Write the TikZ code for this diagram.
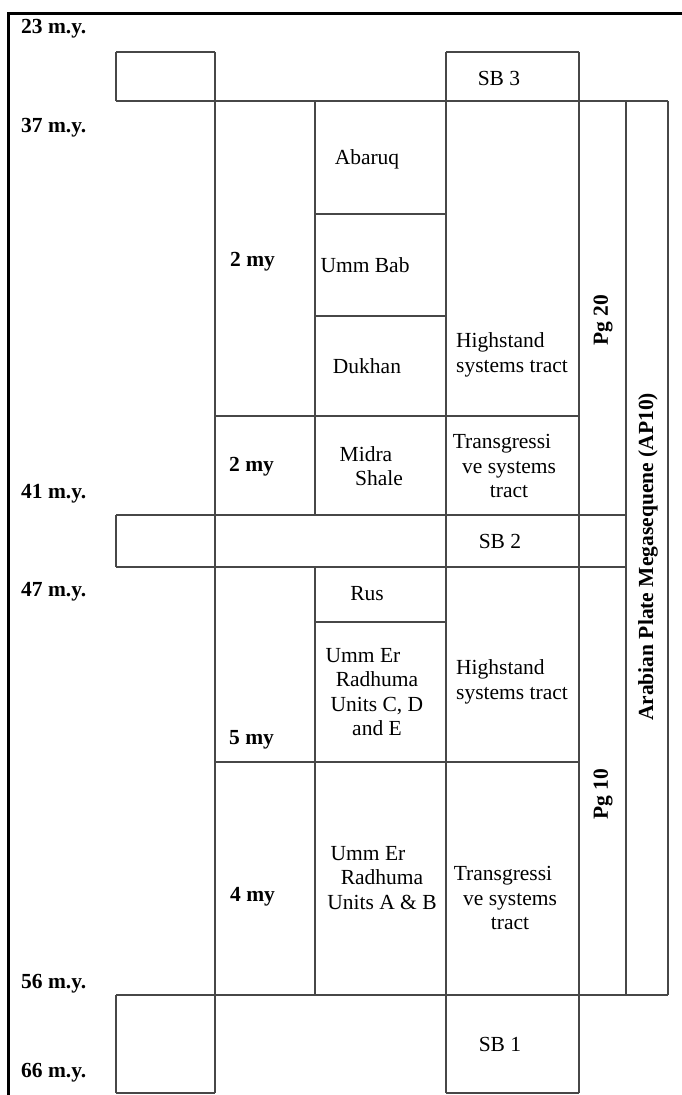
\documentclass[tikz,border=0pt]{standalone}
\usepackage{fontspec}
\setmainfont{Liberation Serif}
\begin{document}
\begin{tikzpicture}[x=1pt,y=-1pt,
  gridline/.style={draw=black!72,line width=1.3pt},
  frameline/.style={draw=black,line cap=rect},
  txt/.style={inner sep=0pt,font=\fontsize{21.5}{24.5}\selectfont},
  btxt/.style={inner sep=0pt,font=\fontsize{21.5}{24.5}\selectfont\bfseries},
  lefttxt/.style={txt,align=left,anchor=west},
  ctrtxt/.style={txt,align=center}]
\useasboundingbox (0,0) rectangle (681,1095);
% frame lines
\draw[frameline,line width=3pt] (8.5,13.5) -- (681,13.5);
\draw[frameline,line width=2.4pt] (8.5,13.5) -- (8.5,1095);
% horizontal grid lines
\draw[gridline] (116,52) -- (215,52);
\draw[gridline] (446,52) -- (579,52);
\draw[gridline] (116,101) -- (668,101);
\draw[gridline] (315,214) -- (446,214);
\draw[gridline] (315,316) -- (446,316);
\draw[gridline] (215,416) -- (579,416);
\draw[gridline] (116,515) -- (626,515);
\draw[gridline] (116,567) -- (626,567);
\draw[gridline] (315,622) -- (446,622);
\draw[gridline] (215,762) -- (579,762);
\draw[gridline] (116,995) -- (668,995);
\draw[gridline] (116,1093) -- (215,1093);
\draw[gridline] (446,1093) -- (579,1093);
% vertical grid lines
\draw[gridline] (116,52) -- (116,101);
\draw[gridline] (116,515) -- (116,567);
\draw[gridline] (116,995) -- (116,1093);
\draw[gridline] (215,52) -- (215,1093);
\draw[gridline] (315,101) -- (315,515);
\draw[gridline] (315,567) -- (315,995);
\draw[gridline] (446,52) -- (446,1093);
\draw[gridline] (579,52) -- (579,1093);
\draw[gridline] (626,101) -- (626,995);
\draw[gridline] (668,101) -- (668,995);
% age labels
\node[btxt,anchor=west] (a23) at (21,29) {23 m.y.};
\node[btxt,anchor=west] (a37) at (21,128) {37 m.y.};
\node[btxt,anchor=west] (a41) at (21,494) {41 m.y.};
\node[btxt,anchor=west] (a47) at (21,592) {47 m.y.};
\node[btxt,anchor=west] (a56) at (21,984) {56 m.y.};
\node[btxt,anchor=west] (a66) at (21,1073) {66 m.y.};
% durations
\node[btxt,anchor=west] (d1) at (230,262) {2 my};
\node[btxt,anchor=west] (d2) at (229,467) {2 my};
\node[btxt,anchor=west] (d3) at (229,740) {5 my};
\node[btxt,anchor=west] (d4) at (230,897) {4 my};
% formations
\node[txt] (abaruq) at (367,159) {Abaruq};
\node[txt] (ummbab) at (365,265) {Umm Bab};
\node[txt] (dukhan) at (367,366) {Dukhan};
\node[ctrtxt] (midra) at (379,466) {Midra\hspace*{26pt}\\Shale};
\node[txt] (rus) at (367,594) {Rus};
\node[ctrtxt] (uerc) at (377,692) {Umm Er\hspace*{28pt}\\Radhuma\\Units C, D\\and E};
\node[ctrtxt] (uera) at (382,878) {Umm Er\hspace*{28pt}\\Radhuma\\Units A \& B};
% systems tracts
\node[lefttxt] (hst1) at (456,355) {Highstand\\systems tract};
\node[ctrtxt] (tst1) at (509,466) {Transgressi\hspace*{14pt}\\ve systems\\tract};
\node[lefttxt] (hst2) at (456,682) {Highstand\\systems tract};
\node[ctrtxt] (tst2) at (510,898) {Transgressi\hspace*{14pt}\\ve systems\\tract};
% sequence boundaries
\node[txt] (sb3) at (499,78) {SB 3};
\node[txt] (sb2) at (500,541) {SB 2};
\node[txt] (sb1) at (500,1044) {SB 1};
% rotated labels
\node[btxt,rotate=90] (pg20) at (603,320) {Pg 20};
\node[btxt,rotate=90] (pg10) at (603,794) {Pg 10};
\node[btxt,rotate=90] (ap10) at (648,557) {Arabian Plate Megasequene (AP10)};
\end{tikzpicture}
\end{document}
